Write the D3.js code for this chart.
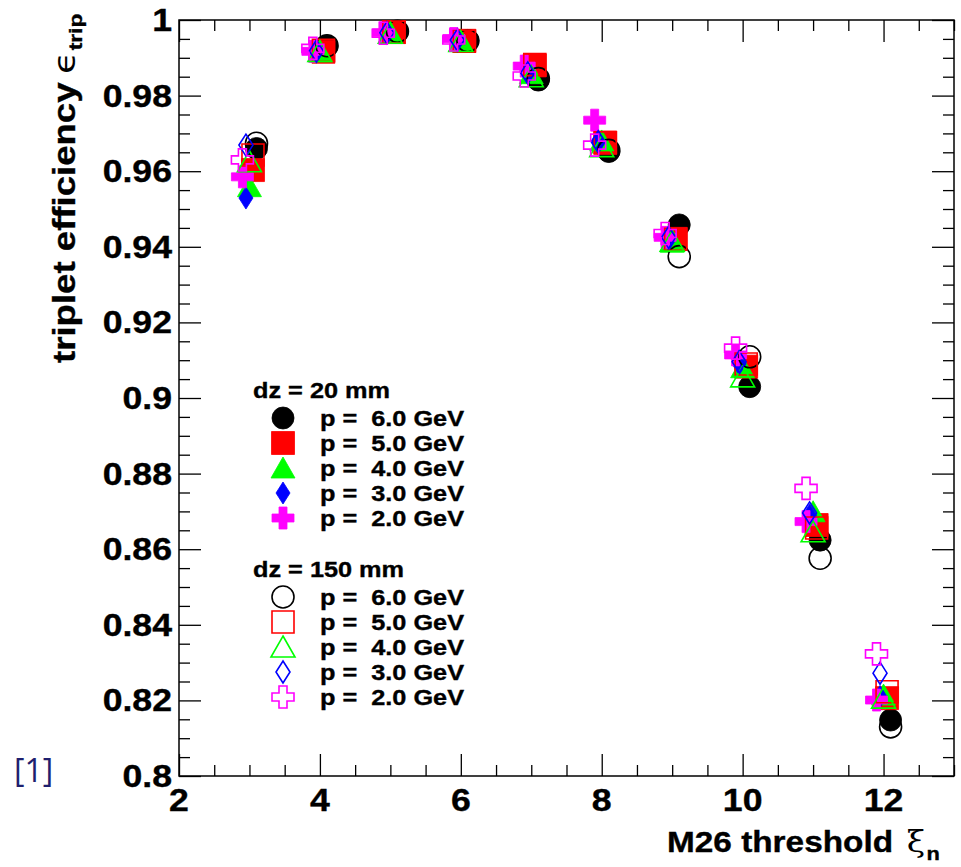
<!DOCTYPE html>
<html>
<head>
<meta charset="utf-8">
<title>triplet efficiency</title>
<script src="https://d3js.org/d3.v7.min.js"></script>
<style>
  body { margin: 0; background: #fff; }
  text { font-family: "Liberation Sans", Arial, sans-serif; font-weight: bold; white-space: pre; }
  .heavy { stroke: #000; stroke-width: 0.35px; }
</style>
</head>
<body>
<div id="chart"></div>
<script>
// M26 threshold values
var thresholds = [3, 4, 5, 6, 7, 8, 9, 10, 11, 12];
var momenta = ["6.0", "5.0", "4.0", "3.0", "2.0"];
var xShift = [0.1, 0.05, 0, -0.05, -0.1];   // small x offset per momentum so the markers do not sit on top of each other

// dz = 20 mm (filled markers)
var dz20_p6 = [0.9660, 0.9931, 0.9969, 0.9946, 0.9841, 0.9652, 0.9458, 0.9030, 0.8624, 0.8148];
var dz20_p5 = [0.9603, 0.9916, 0.9968, 0.9945, 0.9880, 0.9676, 0.9421, 0.9083, 0.8664, 0.8206];
var dz20_p4 = [0.9559, 0.9916, 0.9965, 0.9945, 0.9858, 0.9680, 0.9412, 0.9080, 0.8699, 0.8214];
var dz20_p3 = [0.9529, 0.9915, 0.9966, 0.9946, 0.9862, 0.9678, 0.9418, 0.9090, 0.8690, 0.8210];
var dz20_p2 = [0.9585, 0.9917, 0.9966, 0.9951, 0.9878, 0.9735, 0.9425, 0.9114, 0.8673, 0.8201];

// dz = 150 mm (open markers)
var dz150_p6 = [0.9674, 0.9932, 0.9970, 0.9945, 0.9845, 0.9655, 0.9374, 0.9109, 0.8576, 0.8130];
var dz150_p5 = [0.9643, 0.9920, 0.9968, 0.9944, 0.9882, 0.9675, 0.9420, 0.9090, 0.8656, 0.8223];
var dz150_p4 = [0.9625, 0.9917, 0.9965, 0.9943, 0.9850, 0.9665, 0.9415, 0.9056, 0.8646, 0.8206];
var dz150_p3 = [0.9669, 0.9918, 0.9966, 0.9947, 0.9860, 0.9678, 0.9425, 0.9096, 0.8696, 0.8272];
var dz150_p2 = [0.9630, 0.9925, 0.9965, 0.9947, 0.9852, 0.9669, 0.9435, 0.9132, 0.8761, 0.8323];

var xTicks = [2, 4, 6, 8, 10, 12];
var yTicks = [0.8, 0.82, 0.84, 0.86, 0.88, 0.9, 0.92, 0.94, 0.96, 0.98, 1];

var width = 961, height = 867;
var frame = { left: 179, right: 954, top: 20, bottom: 776 };
var stretch = 1.15;  // the original font is a bit wider than Helvetica

var x = d3.scaleLinear().domain([2, 13]).range([frame.left, frame.right]);
var y = d3.scaleLinear().domain([0.8, 1]).range([frame.bottom, frame.top]);

var colors = ["#000000", "#ff0000", "#00ff00", "#0000ff", "#ff00ff"];
var shapes = ["circle", "square", "triangle", "diamond", "cross"];

function markerPath(shape, open) {
  var p = d3.path();
  if (shape === "circle") {
    var r = 11;
    p.moveTo(r, 0); p.arc(0, 0, r, 0, 2 * Math.PI);
  } else if (shape === "square") {
    var h = open ? 11 : 11.5;
    p.rect(-h, -h, 2 * h, 2 * h);
  } else if (shape === "triangle") {
    p.moveTo(0, -11); p.lineTo(12, 10); p.lineTo(-12, 10); p.closePath();
  } else if (shape === "diamond") {
    p.moveTo(0, -11); p.lineTo(7, 0); p.lineTo(0, 11); p.lineTo(-7, 0); p.closePath();
  } else {
    var a = 4, l = 11;
    p.moveTo(-a, -l); p.lineTo(a, -l); p.lineTo(a, -a); p.lineTo(l, -a); p.lineTo(l, a);
    p.lineTo(a, a); p.lineTo(a, l); p.lineTo(-a, l); p.lineTo(-a, a); p.lineTo(-l, a);
    p.lineTo(-l, -a); p.lineTo(-a, -a); p.closePath();
  }
  return p.toString();
}

var svg = d3.select("#chart").append("svg")
    .attr("width", width)
    .attr("height", height);

function addText(str, tx, ty, size, anchor, rot, sx) {
  return svg.append("text")
      .attr("class", "heavy")
      .attr("transform", "translate(" + tx + "," + ty + ")" + (rot ? " rotate(" + rot + ")" : "") + " scale(" + (sx || stretch) + ",1)")
      .attr("text-anchor", anchor)
      .style("font-size", size + "px")
      .text(str);
}

// ticks on all four sides
var minorX = d3.range(2, 13.01, 0.5).filter(function(d) { return d % 2 !== 0; });
var minorY = d3.range(0, 41).map(function(i) { return +(0.8 + i * 0.005).toFixed(3); })
    .filter(function(d) { return yTicks.indexOf(d) < 0; });

function tickSet(axisFn, scale, major, minor, tx, ty) {
  [[major, 22], [minor, 11]].forEach(function(t) {
    svg.append("g")
        .attr("transform", "translate(" + tx + "," + ty + ")")
        .call(axisFn(scale).tickValues(t[0]).tickSize(-t[1]).tickSizeOuter(0).tickFormat(""))
        .call(function(g) { g.select(".domain").remove(); })
        .selectAll("line").attr("stroke", "#000").attr("stroke-width", 1.3);
  });
}
tickSet(d3.axisBottom, x, xTicks, minorX, 0, frame.bottom);
tickSet(d3.axisTop, x, xTicks, minorX, 0, frame.top);
tickSet(d3.axisLeft, y, yTicks, minorY, frame.left, 0);
tickSet(d3.axisRight, y, yTicks, minorY, frame.right, 0);

svg.append("rect")
    .attr("x", frame.left).attr("y", frame.top)
    .attr("width", frame.right - frame.left).attr("height", frame.bottom - frame.top)
    .attr("fill", "none").attr("stroke", "#000").attr("stroke-width", 1.5);

// tick labels
yTicks.forEach(function(d) {
  addText(String(+d.toFixed(2)), frame.left - 7, y(d) + 11, 31, "end");
});
xTicks.forEach(function(d) {
  addText(String(d), x(d), 811, 31, "middle");
});

// axis titles
var xt = addText("M26 threshold", 667, 852, 29, "start", 0, 1.15);
xt.append("tspan").attr("dx", 12).style("stroke", "none").style("font-weight", "normal")
    .style("font-family", "'DejaVu Serif', serif").text("\u03BE");
xt.append("tspan").attr("dx", 1).attr("dy", 8).style("font-size", "19px").text("n");

var yt = addText("triplet efficiency", 75, 363, 30.5, "start", -90, 1.2);
yt.append("tspan").attr("dx", 7).style("stroke", "none").style("font-weight", "normal")
    .style("font-family", "'DejaVu Sans', sans-serif").text("\u03F5");
yt.append("tspan").attr("dx", 1).attr("dy", 7).style("font-size", "19px").text("trip");

// data markers
var filled = [dz20_p6, dz20_p5, dz20_p4, dz20_p3, dz20_p2];
var open = [dz150_p6, dz150_p5, dz150_p4, dz150_p3, dz150_p2];

function drawSeries(values, k, isOpen) {
  svg.append("g").selectAll("path")
      .data(values)
      .enter().append("path")
      .attr("transform", function(d, i) { return "translate(" + x(thresholds[i] + xShift[k]) + "," + y(d) + ")"; })
      .attr("d", markerPath(shapes[k], isOpen))
      .attr("fill", isOpen ? "none" : colors[k])
      .attr("stroke", colors[k])
      .attr("stroke-width", isOpen ? 1.6 : 0.8);
}
filled.forEach(function(v, k) { drawSeries(v, k, false); });
open.forEach(function(v, k) { drawSeries(v, k, true); });

// legend
var legendGroups = [
  { title: "dz = 20 mm", titleY: 398, rowY: 418, open: false },
  { title: "dz = 150 mm", titleY: 577, rowY: 597, open: true }
];
legendGroups.forEach(function(grp) {
  addText(grp.title, 253, grp.titleY, 22, "start");
  momenta.forEach(function(m, k) {
    var ry = grp.rowY + k * 25;
    svg.append("path")
        .attr("transform", "translate(283," + ry + ")")
        .attr("d", markerPath(shapes[k], grp.open))
        .attr("fill", grp.open ? "none" : colors[k])
        .attr("stroke", colors[k])
        .attr("stroke-width", grp.open ? 1.6 : 0.8);
    addText("p =  " + m + " GeV", 320, ry + 8, 22, "start");
  });
});

// reference tag
svg.append("text")
    .attr("x", 14).attr("y", 782)
    .style("font-family", "'Open Sans', sans-serif")
    .style("font-weight", "normal")
    .style("font-size", "32px")
    .attr("fill", "#1f1f6e")
    .text("[1]");
</script>
</body>
</html>
